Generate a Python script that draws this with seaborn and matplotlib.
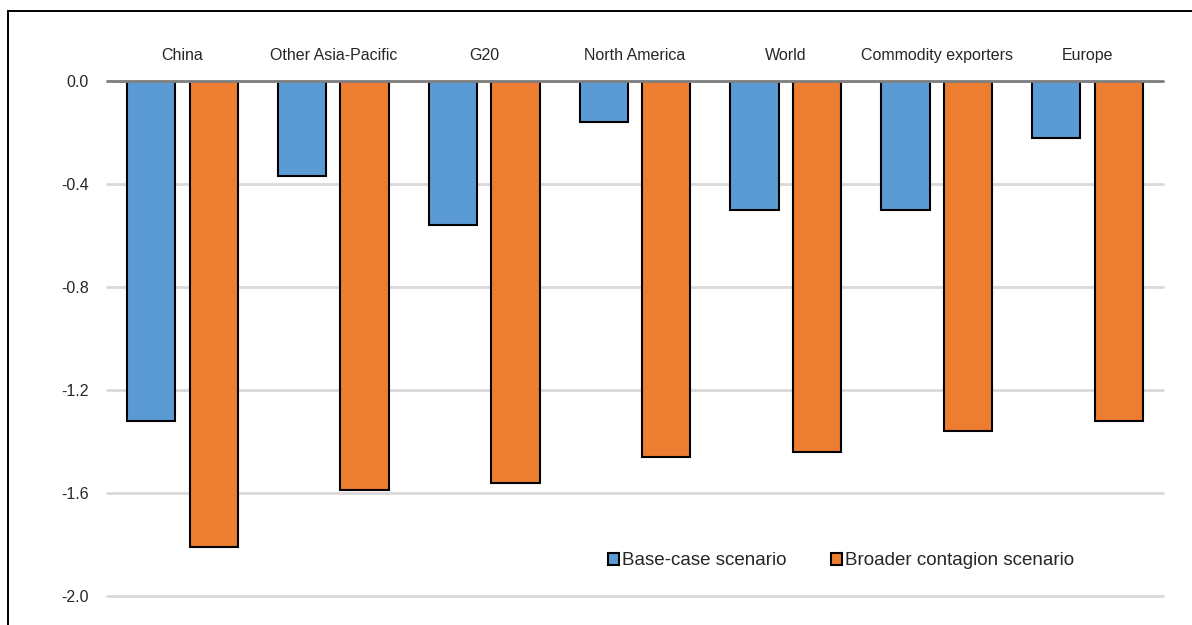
import matplotlib
matplotlib.use("Agg")
import matplotlib.pyplot as plt
from matplotlib.lines import Line2D
import seaborn as sns
import pandas as pd

regions = ["China", "Other Asia-Pacific", "G20", "North America", "World",
           "Commodity exporters", "Europe"]
base_case = [-1.32, -0.37, -0.56, -0.16, -0.50, -0.50, -0.22]
broader = [-1.81, -1.59, -1.56, -1.46, -1.44, -1.36, -1.32]
series_names = ["Base-case scenario", "Broader contagion scenario"]
yticks = [0.0, -0.4, -0.8, -1.2, -1.6, -2.0]

df = pd.DataFrame({
    "region": regions * 2,
    "value": base_case + broader,
    "scenario": [series_names[0]] * len(regions) + [series_names[1]] * len(regions),
})

sns.set_theme(style="white")
plt.rcParams["font.family"] = ["Liberation Sans", "DejaVu Sans"]
plt.rcParams["axes.unicode_minus"] = False

fig = plt.figure(figsize=(11.92, 6.25), dpi=100)
ax = fig.add_axes([107 / 1192, (625 - 596) / 625, (1163 - 107) / 1192, (596 - 81) / 625])

sns.barplot(data=df, x="region", y="value", hue="scenario", order=regions,
            hue_order=series_names, palette=["#5B9BD5", "#ED7D31"],
            width=0.83, gap=0.23, edgecolor="black", linewidth=1.5,
            saturation=1, ax=ax, zorder=3)

ax.set_ylim(-2.0, 0.0)
ax.set_yticks(yticks)
ax.set_yticklabels([f"{v:.1f}" for v in yticks])
ax.set_xlabel("")
ax.set_ylabel("")
ax.xaxis.set_ticks_position("top")
ax.tick_params(axis="x", length=0, pad=13, labelsize=11.5, colors="#262626")
ax.tick_params(axis="y", length=0, pad=13, labelsize=11.5, colors="#262626")
for s in ax.spines.values():
    s.set_visible(False)

ax.yaxis.grid(True, color="#d9d9d9", lw=2)
ax.set_axisbelow(True)
for gl in ax.get_ygridlines():
    gl.set_clip_on(False)
ax.axhline(0, color="#7f7f7f", lw=2, zorder=4, clip_on=False)

leg = ax.legend(loc="center", bbox_to_anchor=(0.695, 0.068), ncol=2, frameon=False,
                fontsize=13.5, handlelength=0.6, handleheight=0.6,
                handletextpad=0.15, columnspacing=2.4, borderaxespad=0)
for h in leg.legend_handles:
    h.set_edgecolor("black")
    h.set_linewidth(1.5)

# outer frame (partially cut)
fig.add_artist(Line2D([8 / 1192, 1.0], [1 - 11 / 625, 1 - 11 / 625], color="black", lw=1.4))
fig.add_artist(Line2D([8 / 1192, 8 / 1192], [0.0, 1 - 11 / 625], color="black", lw=1.4))

fig.savefig("out.png", dpi=100)
